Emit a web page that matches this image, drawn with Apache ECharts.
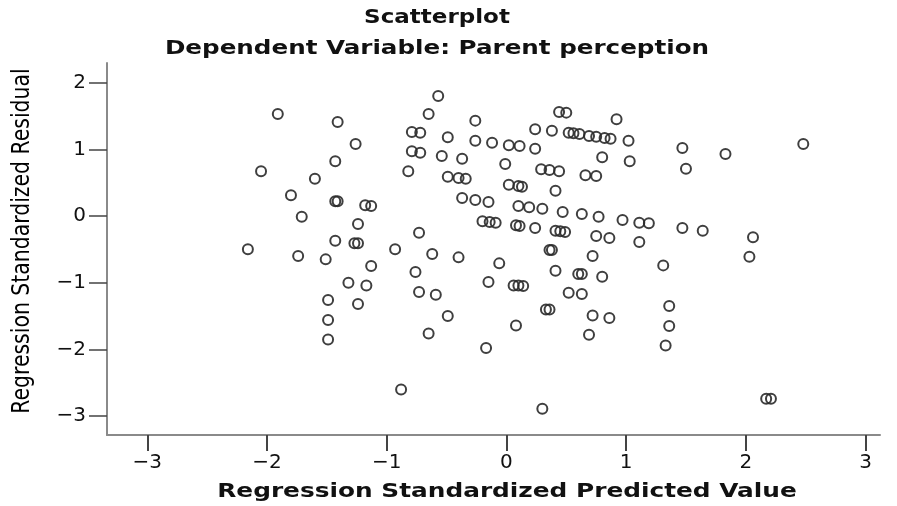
<!DOCTYPE html>
<html>
<head>
<meta charset="utf-8">
<script src="https://cdn.jsdelivr.net/npm/echarts@6/dist/echarts.min.js"></script>
<style>
html,body{margin:0;padding:0;background:#fff;}
#chart{width:897px;height:506px;}
</style>
</head>
<body>
<div id="chart"></div>
<script>
// Regression standardized predicted value (x) and residual (y)
const predicted = [
 -1.91,-1.41,-1.26,-1.43,-2.05,-1.60,-1.80,-1.43,-1.41,-1.18,-1.13,-1.71,-1.24,-1.43,-1.27,-1.24,-2.16,-1.74,-1.51,-1.13,
 -1.32,-1.17,-1.49,-1.24,-1.49,-1.49,
 -0.57,-0.65,-0.26,-0.79,-0.72,-0.49,-0.26,-0.12,0.02,0.11,0.24,0.24,0.38,0.44,0.50,0.92,0.52,0.56,0.61,0.69,0.75,0.82,0.87,1.02,
 -0.79,-0.72,-0.54,-0.37,0.80,1.03,-0.01,-0.82,0.29,0.36,0.44,0.66,0.75,-0.49,-0.40,-0.34,0.02,0.10,0.13,0.41,
 -0.37,-0.26,-0.15,0.10,0.19,0.30,0.47,0.63,0.77,0.97,-0.20,-0.14,-0.09,0.08,0.11,0.24,0.41,0.45,0.49,0.75,0.86,
 -0.73,-0.93,-0.62,-0.40,0.36,0.38,0.72,
 1.47,1.83,2.48,1.50,1.11,1.19,1.47,1.64,1.11,2.06,2.03,
 1.31,1.36,1.36,1.33,2.17,2.21,
 -0.06,-0.76,-0.73,-0.59,-0.15,0.06,0.10,0.14,0.41,0.60,0.63,0.80,0.52,0.63,0.33,0.36,-0.49,0.72,0.86,0.08,-0.65,0.69,-0.17,-0.88,0.30
];
const residual = [
 1.53,1.41,1.08,0.82,0.67,0.56,0.31,0.22,0.22,0.16,0.15,-0.01,-0.12,-0.37,-0.41,-0.41,-0.50,-0.60,-0.65,-0.75,
 -1.00,-1.04,-1.26,-1.32,-1.56,-1.85,
 1.80,1.53,1.43,1.26,1.25,1.18,1.13,1.10,1.06,1.05,1.01,1.30,1.28,1.56,1.55,1.45,1.25,1.24,1.23,1.20,1.19,1.17,1.16,1.13,
 0.97,0.95,0.90,0.86,0.88,0.82,0.78,0.67,0.70,0.69,0.67,0.61,0.60,0.59,0.57,0.56,0.47,0.45,0.44,0.38,
 0.27,0.24,0.21,0.15,0.13,0.11,0.06,0.03,-0.01,-0.06,-0.08,-0.09,-0.10,-0.14,-0.15,-0.18,-0.22,-0.23,-0.24,-0.30,-0.33,
 -0.25,-0.50,-0.57,-0.62,-0.51,-0.51,-0.60,
 1.02,0.93,1.08,0.71,-0.10,-0.11,-0.18,-0.22,-0.39,-0.32,-0.61,
 -0.74,-1.35,-1.65,-1.94,-2.74,-2.74,
 -0.71,-0.84,-1.14,-1.18,-0.99,-1.04,-1.04,-1.05,-0.82,-0.87,-0.87,-0.91,-1.15,-1.17,-1.40,-1.40,-1.50,-1.49,-1.53,-1.64,-1.76,-1.78,-1.98,-2.60,-2.89
];
const xTicks = [-3,-2,-1,0,1,2,3];
const yTicks = [-3,-2,-1,0,1,2];
const titleText = 'Scatterplot';
const subtitleText = 'Dependent Variable: Parent perception';
const xName = 'Regression Standardized Predicted Value';
const yName = 'Regression Standardized Residual';

const points = predicted.map((x,i)=>[x,residual[i]]);
const fmt = v => String(v).replace('-', '\u2212');
const boldFont = 'bold 20px "DejaVu Sans"';

const chart = echarts.init(document.getElementById('chart'), null, {renderer:'canvas'});
chart.setOption({
  animation:false,
  backgroundColor:'#fff',
  graphic:[
    {type:'text', x:437, y:18, scaleX:1.15, silent:true,
     style:{text:titleText, font:boldFont, fill:'#111', align:'center', verticalAlign:'middle'}},
    {type:'text', x:437, y:49, scaleX:1.23, silent:true,
     style:{text:subtitleText, font:boldFont, fill:'#111', align:'center', verticalAlign:'middle'}},
    {type:'text', x:507, y:492, scaleX:1.24, silent:true,
     style:{text:xName, font:boldFont, fill:'#111', align:'center', verticalAlign:'middle'}},
    {type:'text', x:23, y:241, rotation:Math.PI/2, scaleY:1.1, silent:true,
     style:{text:yName, font:'22.7px "Liberation Sans Narrow", "DejaVu Sans Condensed"', fill:'#000', align:'center', verticalAlign:'middle'}}
  ],
  grid:{left:107, top:63, width:773, height:372, containLabel:false},
  xAxis:{
    type:'value', min:-3.337, max:3.121,
    axisLine:{show:true, onZero:false, lineStyle:{color:'#8a8a8a', width:2}},
    axisTick:{show:true, customValues:xTicks, length:16, lineStyle:{color:'#444', width:2}},
    axisLabel:{show:true, customValues:xTicks, margin:18, formatter:fmt,
      fontFamily:'DejaVu Sans', fontSize:20, color:'#111'},
    splitLine:{show:false}
  },
  yAxis:{
    type:'value', min:-3.283, max:2.294,
    axisLine:{show:true, onZero:false, lineStyle:{color:'#8a8a8a', width:2}},
    axisTick:{show:true, customValues:yTicks, length:18, lineStyle:{color:'#444', width:1.5}},
    axisLabel:{show:true, customValues:yTicks, margin:21, formatter:fmt,
      fontFamily:'DejaVu Sans', fontSize:20, color:'#111'},
    splitLine:{show:false}
  },
  series:[{
    type:'scatter',
    data:points,
    symbol:'circle',
    symbolSize:10,
    itemStyle:{color:'rgba(255,255,255,0)', borderColor:'#2a2a2a', borderWidth:2, opacity:0.9}
  }]
});
</script>
</body>
</html>
